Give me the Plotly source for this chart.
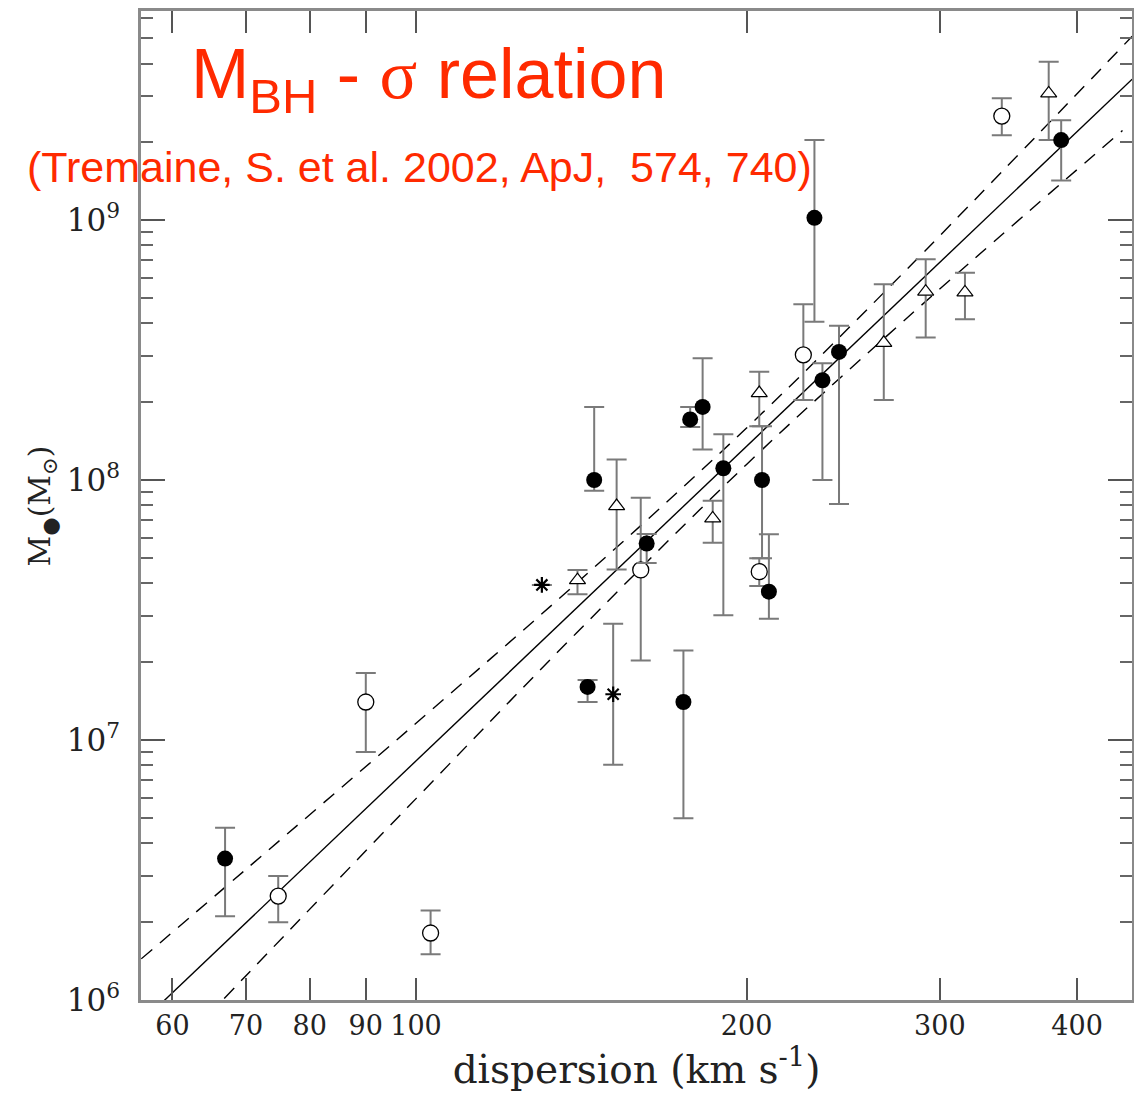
import plotly.graph_objects as go

# ---------------- data ----------------
filled_sigma = [67.0, 145.3, 143.3, 162.2, 175.2, 177.7, 182.4, 190.5, 206.6, 209.6, 230.6, 234.5, 242.8, 386.9]
filled_mass  = [3.5e6, 1.0e8, 1.6e7, 5.7e7, 1.4e7, 1.71e8, 1.91e8, 1.11e8, 1.0e8, 3.72e7, 1.02e9, 2.42e8, 3.11e8, 2.03e9]
filled_hi    = [4.6e6, 1.91e8, 1.7e7, 6.2e7, 2.21e7, 1.91e8, 2.94e8, 1.50e8, 1.61e8, 6.18e7, 2.03e9, 2.81e8, 3.92e8, 2.42e9]
filled_lo    = [2.1e6, 9.1e7, 1.4e7, 4.8e7, 5.0e6, 1.6e8, 1.31e8, 3.02e7, 5.0e7, 2.93e7, 4.06e8, 1.0e8, 8.09e7, 1.42e9]

open_sigma = [74.9, 90.0, 103.1, 160.2, 205.4, 225.3, 341.6]
open_mass  = [2.51e6, 1.40e7, 1.81e6, 4.51e7, 4.44e7, 3.03e8, 2.51e9]
open_hi    = [3.0e6, 1.81e7, 2.21e6, 8.55e7, 5.0e7, 4.74e8, 2.94e9]
open_lo    = [1.99e6, 9.0e6, 1.50e6, 2.02e7, 3.91e7, 2.03e8, 2.12e9]

tri_sigma = [140.3, 152.3, 186.3, 205.4, 266.7, 291.2, 316.2, 376.9]
tri_mass  = [4.12e7, 7.94e7, 7.12e7, 2.16e8, 3.37e8, 5.30e8, 5.27e8, 3.07e9]
tri_hi    = [4.51e7, 1.20e8, 8.32e7, 2.61e8, 5.66e8, 7.06e8, 6.27e8, 4.06e9]
tri_lo    = [3.64e7, 4.53e7, 5.74e7, 1.61e8, 2.03e8, 3.53e8, 4.15e8, 2.03e9]

star_sigma = [130.2, 151.2]
star_mass  = [3.95e7, 1.50e7]
star_hi    = [3.95e7, 2.80e7]
star_lo    = [3.95e7, 8.04e6]

fit_sigma = [56.2, 449.0]
fit_mass  = [8.2e5, 3.48e9]

upper_sigma = [56.2, 70, 100, 140, 200, 280, 449]
upper_mass  = [1.44e6, 3.18e6, 1.16e7, 4.01e7, 1.585e8, 6.47e8, 5.09e9]
lower_sigma = [56.2, 70, 100, 140, 200, 280, 440]
lower_mass  = [4.7e5, 1.24e6, 5.95e6, 2.58e7, 1.148e8, 4.2e8, 2.21e9]

x_tickvals = [60, 70, 80, 90, 100, 200, 300, 400]
x_ticktext = ["60", "70", "80", "90", "100", "200", "300", "400"]
y_tickvals = [1e6, 1e7, 1e8, 1e9]
y_ticktext = ["10<sup>6</sup>", "10<sup>7</sup>", "10<sup>8</sup>", "10<sup>9</sup>"]
y_minor = [m * 10 ** e for e in range(6, 10) for m in range(2, 10)]

ERR_COLOR = "#7a7a7a"
RED = "#ff2a00"
SERIF = "DejaVu Serif"


def err(vals, hi, lo):
    return dict(type="data", symmetric=False,
                array=[h - v for v, h in zip(vals, hi)],
                arrayminus=[v - l for v, l in zip(vals, lo)],
                color=ERR_COLOR, thickness=2, width=10)


fig = go.Figure()

# fit line and band
fig.add_trace(go.Scatter(x=fit_sigma, y=fit_mass, mode="lines",
                         line=dict(color="black", width=1.4), showlegend=False))
fig.add_trace(go.Scatter(x=upper_sigma, y=upper_mass, mode="lines",
                         line=dict(color="black", width=1.4, dash="14px,10px", shape="spline"),
                         showlegend=False))
fig.add_trace(go.Scatter(x=lower_sigma, y=lower_mass, mode="lines",
                         line=dict(color="black", width=1.4, dash="14px,10px", shape="spline"),
                         showlegend=False))

# data points
fig.add_trace(go.Scatter(x=open_sigma, y=open_mass, mode="markers",
                         error_y=err(open_mass, open_hi, open_lo),
                         marker=dict(symbol="circle", size=16, color="white",
                                     line=dict(color="black", width=1.3)),
                         showlegend=False))
fig.add_trace(go.Scatter(x=tri_sigma, y=tri_mass, mode="markers",
                         error_y=err(tri_mass, tri_hi, tri_lo),
                         marker=dict(symbol="triangle-up", size=14, color="white",
                                     line=dict(color="black", width=1.2)),
                         showlegend=False))
fig.add_trace(go.Scatter(x=star_sigma, y=star_mass, mode="markers",
                         error_y=err(star_mass, star_hi, star_lo),
                         marker=dict(symbol="asterisk-open", size=13, color="black",
                                     line=dict(color="black", width=2.2)),
                         showlegend=False))
fig.add_trace(go.Scatter(x=filled_sigma, y=filled_mass, mode="markers",
                         error_y=err(filled_mass, filled_hi, filled_lo),
                         marker=dict(symbol="circle", size=16, color="black",
                                     line=dict(color="black", width=0)),
                         showlegend=False))

axis_common = dict(type="log", showline=True, linecolor="#8a8a8a", linewidth=2.5,
                   mirror="allticks", ticks="inside", tickcolor="#555555",
                   tickwidth=1.6, showgrid=False, zeroline=False, automargin=False)

fig.update_xaxes(**axis_common,
                 range=[1.7495, 2.6521],
                 tickmode="array", tickvals=x_tickvals, ticktext=x_ticktext,
                 ticklen=22,
                 tickfont=dict(family=SERIF, size=27, color="#222"),
                 title=dict(text="dispersion (km s<sup>-1</sup>)",
                            font=dict(family=SERIF, size=39, color="#222"),
                            standoff=4))
fig.update_yaxes(**axis_common,
                 range=[6, 9.804],
                 tickmode="array", tickvals=y_tickvals, ticktext=y_ticktext,
                 ticklen=24,
                 minor=dict(tickmode="array", tickvals=y_minor, ticklen=12,
                            ticks="inside", tickcolor="#666666", tickwidth=1.6),
                 tickfont=dict(family=SERIF, size=31, color="#222"),
                 ticklabelstandoff=12)

# y-axis title as a rotated annotation for exact placement
fig.add_annotation(xref="paper", yref="paper", x=-0.1, y=0.5,
                   xanchor="center", yanchor="middle", showarrow=False, textangle=-90,
                   text="M<sub>\u25cf</sub>(M<sub>\u2299</sub>)",
                   font=dict(family=SERIF, size=30, color="#222"))

fig.add_annotation(xref="paper", yref="paper", x=0.048, y=0.978,
                   xanchor="left", yanchor="top", showarrow=False,
                   text="M<sub>BH</sub> - <span style=\"font-family:'Liberation Serif'\">\u03c3</span> relation",
                   font=dict(family="Liberation Sans", size=70, color=RED))
fig.add_annotation(xref="paper", yref="paper", x=-0.117, y=0.842,
                   xanchor="left", yanchor="middle", showarrow=False,
                   text="(Tremaine, S. et al. 2002, ApJ,  574, 740)",
                   font=dict(family="Liberation Sans", size=43, color=RED))

# page body adds an 8px offset; shrink the figure so the plot area lands where the reference has it
fig.update_layout(width=1134, height=1086,
                  margin=dict(l=133, r=10, t=3, b=94),
                  plot_bgcolor="white", paper_bgcolor="white")

fig.write_html("out.html")
